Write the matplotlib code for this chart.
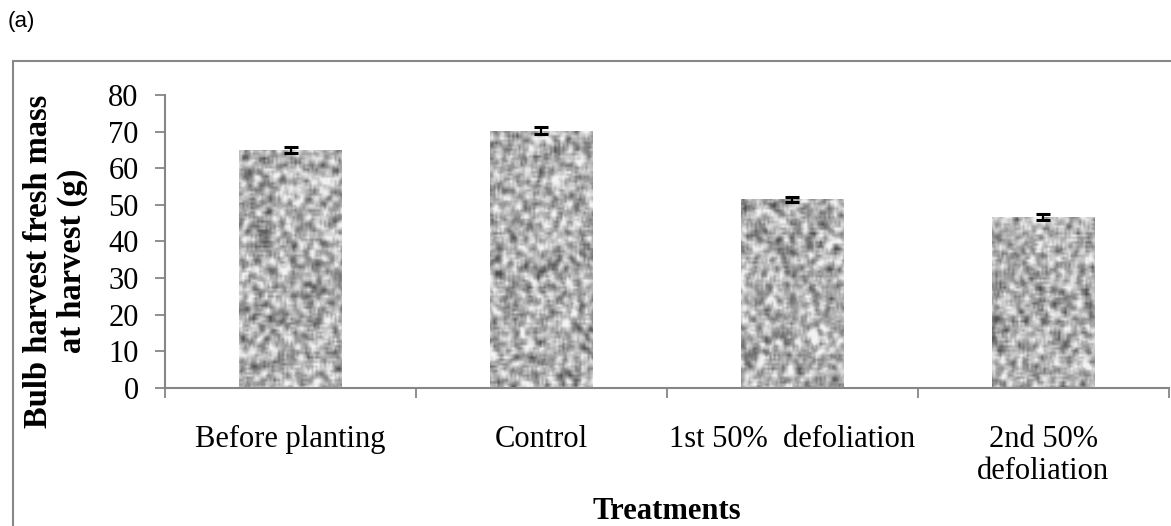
import numpy as np
import matplotlib.pyplot as plt
from matplotlib.patches import Rectangle

# data
treatments = ["Before planting", "Control", "1st 50%  defoliation", "2nd 50%\ndefoliation"]
fresh_mass = [65.0, 70.3, 51.5, 46.6]
errors = [0.8, 1.0, 0.7, 0.8]

plt.rcParams['font.family'] = ['Liberation Serif', 'DejaVu Serif']

fig = plt.figure(figsize=(11.71, 5.26), dpi=100)
ax = fig.add_axes([0.141, 0.2624, 0.857, 0.557])

x = np.arange(len(treatments))
bars = ax.bar(x, fresh_mass, width=0.41, color='#a8a8a8', zorder=1)

# speckled grey texture inside the bars (just a fill pattern)
rng = np.random.default_rng(3)
noise = rng.random((130, 480))
sm = np.zeros_like(noise)
for dy in range(-1, 2):
    for dx in range(-1, 2):
        sm += np.roll(np.roll(noise, dy, 0), dx, 1) / 9.0
sm = (sm - sm.mean()) / sm.std()
tex = np.clip(0.69 + 0.13 * sm, 0.3, 0.95)
for b in bars:
    im = ax.imshow(tex, cmap='gray', vmin=0, vmax=1, aspect='auto',
                   extent=(-0.5, 3.5, 0, 80), zorder=1.5, interpolation='bilinear')
    im.set_clip_path(b)

ax.errorbar(x, fresh_mass, yerr=errors, fmt='none', ecolor='black',
            elinewidth=1.6, capsize=5, capthick=2.2, zorder=3)

ax.set_xlim(-0.5, 3.5)
ax.set_ylim(0, 80)
ax.set_yticks(np.arange(0, 81, 10))
ax.set_xticks([-0.5, 0.5, 1.5, 2.5, 3.5])
ax.set_xticklabels([])
ax.set_xticks(x, minor=True)
ax.set_xticklabels(treatments, minor=True, fontsize=22, linespacing=1.1)
ax.tick_params(axis='x', which='minor', length=0, pad=27)
ax.tick_params(axis='x', which='major', length=7, color='#868686', width=1.3)
ax.tick_params(axis='y', length=7, color='#868686', width=1.3, labelsize=22, pad=12)

for s in ['top', 'right']:
    ax.spines[s].set_visible(False)
for s in ['left', 'bottom']:
    ax.spines[s].set_color('#868686')
    ax.spines[s].set_linewidth(1.5)

ax.set_ylabel("Bulb harvest fresh mass\nat harvest (g)", fontsize=23.5,
              fontweight='bold', linespacing=1.1)
ax.yaxis.set_label_coords(-0.077, 0.433)
ax.set_xlabel("Treatments", fontsize=22, fontweight='bold')
ax.xaxis.set_label_coords(0.5, -0.372)

# outer frame around the chart
fig.patches.append(Rectangle((13 / 1171, -0.1), 1.2, 0.984, transform=fig.transFigure,
                             fill=False, edgecolor='#888888', linewidth=1.5))

fig.text(8 / 1171, 1 - 22 / 526, "(a)", fontsize=16, family=['Liberation Sans'],
         va='center', ha='left')

fig.savefig("out.png", dpi=100)
